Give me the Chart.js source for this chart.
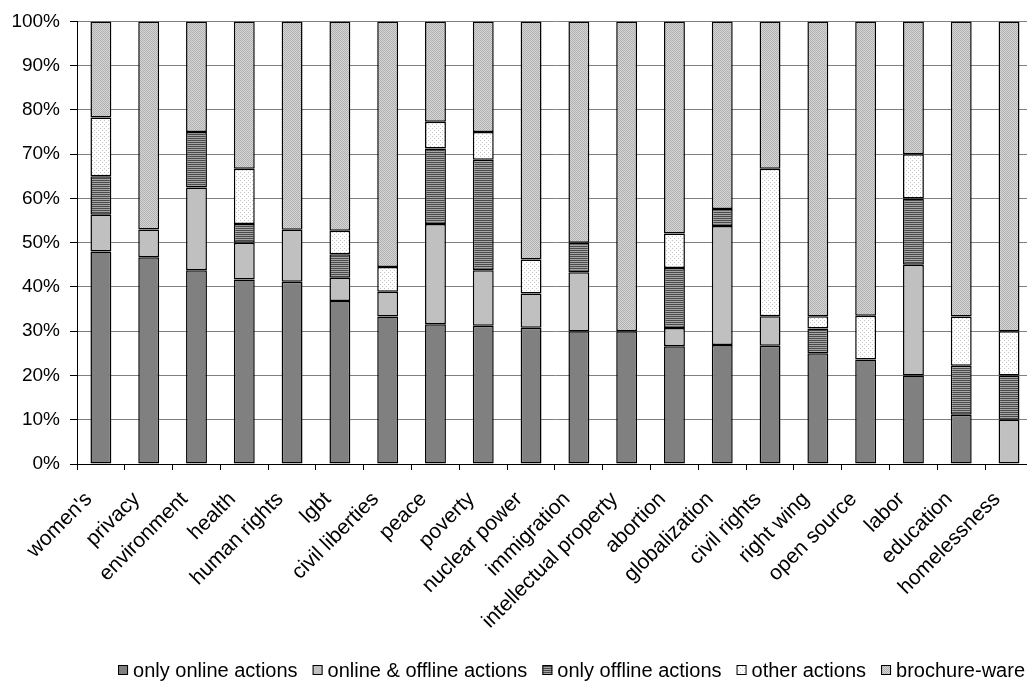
<!DOCTYPE html>
<html>
<head>
<meta charset="utf-8">
<script src="https://cdn.jsdelivr.net/npm/chart.js@4.4.1/dist/chart.umd.min.js"></script>
<style>
  html, body { margin: 0; padding: 0; background: #fff; overflow: hidden; }
  #wrap { width: 1027px; height: 688px; overflow: hidden; position: relative; }
  canvas { display: block; }
</style>
</head>
<body>
<div id="wrap"><canvas id="chart" width="1044" height="688"></canvas></div>
<script>
// Issue areas (x axis)
const categories = [
  "women's", "privacy", "environment", "health", "human rights", "lgbt",
  "civil liberties", "peace", "poverty", "nuclear power", "immigration",
  "intellectual property", "abortion", "globalization", "civil rights",
  "right wing", "open source", "labor", "education", "homelessness"
];

// Share of sites (%) per type of action, stacked bottom to top
const onlyOnline     = [48.0, 46.7, 43.75, 41.7, 41.2, 36.8, 33.3, 31.6, 31.25, 30.8, 30.0, 30.0, 26.6, 26.9, 26.7, 25.0, 23.6, 20.0, 11.1, 0];
const onlineOffline  = [8.3, 6.3, 18.75, 8.3, 11.7, 5.3, 5.6, 22.6, 12.5, 7.7, 13.3, 0, 4.1, 26.9, 6.7, 0, 0, 25.0, 0, 10.0];
const onlyOffline    = [8.7, 0, 12.5, 4.2, 0, 5.3, 0, 17.1, 25.0, 0, 6.7, 0, 13.6, 3.8, 0, 5.6, 0, 15.0, 11.1, 10.0];
const otherActions   = [13.3, 0, 0, 12.5, 0, 5.3, 5.6, 6.0, 6.25, 7.7, 0, 0, 7.8, 0, 33.3, 2.8, 9.9, 10.0, 11.1, 10.0];
const brochureWare   = [21.7, 47.0, 25.0, 33.3, 47.1, 47.3, 55.5, 22.7, 25.0, 53.8, 50.0, 70.0, 47.9, 42.4, 33.3, 66.6, 66.5, 30.0, 66.7, 70.0];

const seriesNames = ["only online actions", "online & offline actions", "only offline actions", "other actions", "brochure-ware"];

// Y axis tick values
const yTicks = [0, 10, 20, 30, 40, 50, 60, 70, 80, 90, 100];

const FONT = '"Liberation Sans", Arial, sans-serif';

// Small repeating fills, in the spirit of old office chart patterns
function tile(w, h, paint) {
  const c = document.createElement('canvas');
  c.width = w; c.height = h;
  const g = c.getContext('2d');
  paint(g);
  return g.createPattern(c, 'repeat');
}
const ctx0 = document.getElementById('chart').getContext('2d');

const fillOnline = '#808080';
const fillBoth = '#c0c0c0';
const fillOffline = tile(2, 2, g => {
  g.fillStyle = '#4a4a4a'; g.fillRect(0, 0, 2, 1);
  g.fillStyle = '#a6a6a6'; g.fillRect(0, 1, 2, 1);
});
const fillOther = tile(4, 4, g => {
  g.fillStyle = '#ffffff'; g.fillRect(0, 0, 4, 4);
  g.fillStyle = '#c4c4c4'; g.fillRect(0, 0, 1, 1); g.fillRect(2, 2, 1, 1);
});
const fillBrochure = tile(2, 2, g => {
  g.fillStyle = '#d6d6d6'; g.fillRect(0, 0, 2, 2);
  g.fillStyle = '#b0b0b0'; g.fillRect(0, 0, 1, 1); g.fillRect(1, 1, 1, 1);
});

const seriesValues = [onlyOnline, onlineOffline, onlyOffline, otherActions, brochureWare];
const seriesFills = [fillOnline, fillBoth, fillOffline, fillOther, fillBrochure];

const datasets = seriesValues.map((vals, i) => ({
  label: seriesNames[i],
  data: vals,
  backgroundColor: seriesFills[i],
  borderColor: '#000',
  borderWidth: 1.5,
  borderSkipped: false,
  inflateAmount: 0,
  barPercentage: 0.437,
  categoryPercentage: 1.0
}));

// Legend drawn as one row, ending at the right side
const rowLegend = {
  id: 'rowLegend',
  afterDraw(chart) {
    const ctx = chart.ctx;
    ctx.save();
    ctx.font = '20px ' + FONT;
    ctx.textBaseline = 'alphabetic';
    const box = 10, boxGap = 5, itemGap = 15;
    const items = chart.data.datasets.map(d => ({
      label: d.label, fill: d.backgroundColor, w: ctx.measureText(d.label).width
    }));
    const total = items.reduce((s, it) => s + box + boxGap + it.w, 0) + itemGap * (items.length - 1);
    let x = 1025 - total;
    const base = 677;
    items.forEach(it => {
      ctx.fillStyle = it.fill;
      ctx.fillRect(x, base - 12, box, box);
      ctx.strokeStyle = '#000';
      ctx.lineWidth = 1;
      ctx.strokeRect(x + 0.5, base - 11.5, box - 1, box - 1);
      ctx.fillStyle = '#000';
      ctx.fillText(it.label, x + box + boxGap, base);
      x += box + boxGap + it.w + itemGap;
    });
    ctx.restore();
  }
};

new Chart(ctx0, {
  type: 'bar',
  data: { labels: categories, datasets },
  options: {
    responsive: false,
    animation: false,
    events: [],
    layout: { autoPadding: false, padding: { top: 17, left: 0, right: 6, bottom: 0 } },
    plugins: {
      legend: { display: false },
      tooltip: { enabled: false }
    },
    scales: {
      x: {
        stacked: true,
        afterFit(scale) { scale.height = 224; },
        grid: {
          offset: true,
          drawOnChartArea: false,
          drawTicks: true,
          tickLength: 6,
          tickColor: '#000'
        },
        border: { display: true, color: '#000', width: 1 },
        ticks: {
          autoSkip: false,
          minRotation: 45,
          maxRotation: 45,
          padding: 17,
          labelOffset: -12,
          color: '#000',
          font: { family: FONT, size: 21 }
        }
      },
      y: {
        stacked: true,
        min: 0,
        max: 100,
        afterFit(scale) { scale.width = 77; },
        afterBuildTicks(scale) { scale.ticks = yTicks.map(v => ({ value: v })); },
        grid: {
          color: '#808080',
          lineWidth: 1,
          drawTicks: true,
          tickLength: 7,
          tickColor: '#000'
        },
        border: { display: true, color: '#000', width: 1 },
        ticks: {
          padding: 10,
          color: '#000',
          font: { family: FONT, size: 19 },
          callback: v => v + '%'
        }
      }
    }
  },
  plugins: [rowLegend]
});
</script>
</body>
</html>
